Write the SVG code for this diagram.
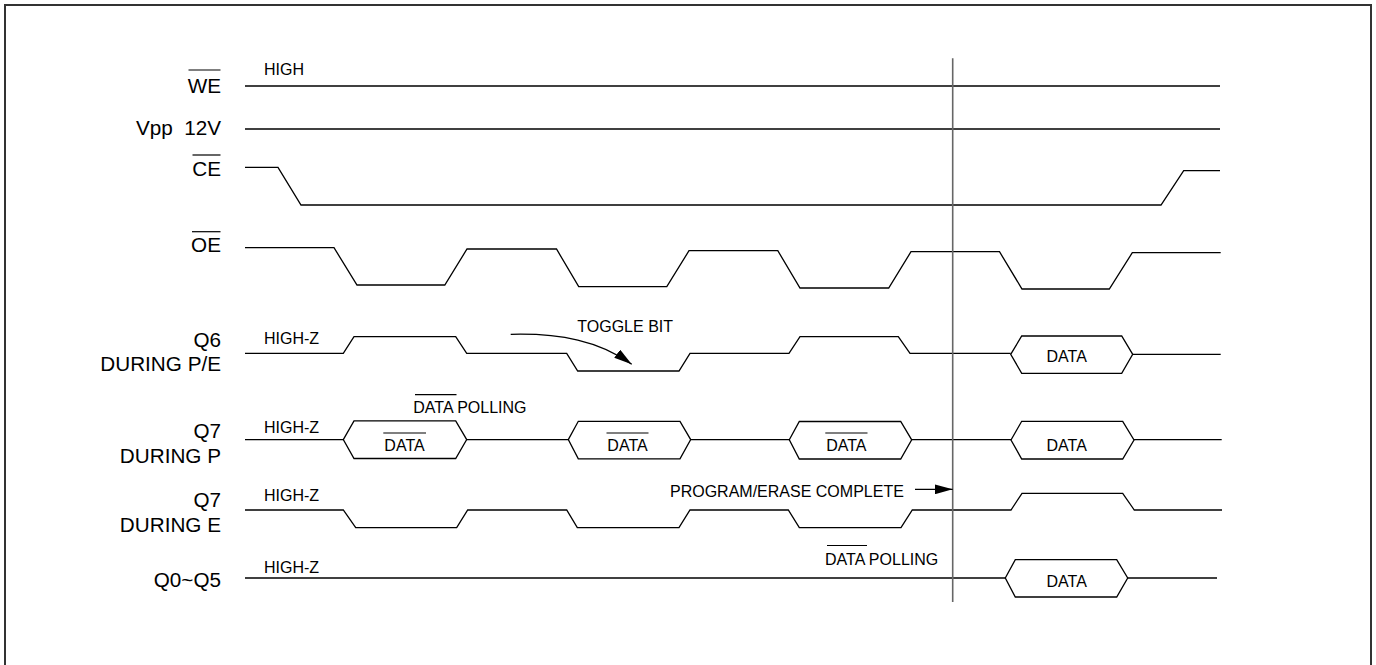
<svg xmlns="http://www.w3.org/2000/svg" width="1376" height="665" viewBox="0 0 1376 665">
<style>
.w{fill:none;stroke:#000;stroke-width:1.3;stroke-linejoin:miter}
.bx{fill:#fff;stroke:#000;stroke-width:1.3}
.ov{stroke:#000;stroke-width:1.2}
.lb{font-family:"Liberation Sans",Arial,sans-serif;font-size:20.7px;fill:#000;text-anchor:end}
.sm{font-family:"Liberation Sans",Arial,sans-serif;font-size:16px;fill:#000}
.c{text-anchor:middle}
</style>
<defs>
<marker id="ah" markerUnits="userSpaceOnUse" markerWidth="18" markerHeight="10" refX="18" refY="5" orient="auto">
<path d="M0,0 L18,5 L0,10 z" fill="#000"/>
</marker>
</defs>
<rect width="1376" height="665" fill="#fff"/>
<path d="M5,675 V5 H1371 V675" fill="none" stroke="#333" stroke-width="2"/>

<g id="WE">
<text class="lb" x="221" y="92.7">WE</text>
<line class="ov" x1="188.5" y1="70" x2="220.5" y2="70"/>
<text class="sm" x="264" y="75">HIGH</text>
<path class="w" d="M245,86 H1220"/>
</g>
<g id="Vpp">
<text class="lb" x="221" y="135.3" xml:space="preserve">Vpp  12V</text>
<path class="w" d="M245,129 H1220"/>
</g>
<g id="CE">
<text class="lb" x="221" y="175.7">CE</text>
<line class="ov" x1="192.5" y1="155" x2="220.5" y2="155"/>
<path class="w" d="M245,167.3 H278 L301,205 H1161 L1183.7,170.7 H1220"/>
</g>
<g id="OE">
<text class="lb" x="221" y="252.3">OE</text>
<line class="ov" x1="192" y1="231.7" x2="220.5" y2="231.7"/>
<path class="w" d="M245,247.7 H334 L357,285 H444.8 L467,249 H556.5 L578.7,286.7 H666.8 L689,250.7 H777.8 L800,288 H888.7 L911,251.7 H999.5 L1022,289 H1109.3 L1132.3,252.7 H1220.7"/>
</g>
<g id="Q6">
<text class="lb" x="221" y="346.7">Q6</text>
<text class="lb" x="221" y="370.7">DURING P/E</text>
<text class="sm" x="264" y="344.3">HIGH-Z</text>
<path class="w" d="M245,353.3 H343.3 L354,336.7 H455.7 L466.7,353.3 H566.7 L577.7,371 H679 L690,353.3 H789 L800,336.7 H898.3 L910,353.3 H1010.7"/>
<polygon class="bx" points="1010.7,354.3 1021.7,336 1121.7,336 1132.7,354.3 1121.7,373.3 1021.7,373.3"/>
<text class="sm c" x="1066.7" y="361.7">DATA</text>
<path class="w" d="M1132.7,354.3 H1220.7"/>
<text class="sm" x="577.3" y="332.3">TOGGLE BIT</text>
</g>
<g id="Q7P">
<text class="lb" x="221" y="438.3">Q7</text>
<text class="lb" x="221" y="462.7">DURING P</text>
<text class="sm" x="264" y="432.7">HIGH-Z</text>
<path class="w" d="M245,439.6 H1221.7"/>
<polygon class="bx" points="343.3,439.6 354,420.9 455.7,420.9 466.7,439.6 455.7,458.5 354,458.5"/>
<text class="sm c" x="404.5" y="451">DATA</text>
<line class="ov" x1="383.3" y1="433" x2="426" y2="433"/>
<polygon class="bx" points="568.3,439.6 578.3,421.3 680,421.3 690.7,439.6 680,458.8 578.3,458.8"/>
<text class="sm c" x="627.5" y="451">DATA</text>
<line class="ov" x1="606.5" y1="433" x2="648.5" y2="433"/>
<polygon class="bx" points="789.3,439.8 799.3,421.5 900.7,421.5 911.7,439.8 900.7,459 799.3,459"/>
<text class="sm c" x="846.3" y="451">DATA</text>
<line class="ov" x1="825.3" y1="433" x2="867.5" y2="433"/>
<polygon class="bx" points="1011,440 1021.7,421.3 1122.7,421.3 1134,440 1122.7,459 1021.7,459"/>
<text class="sm c" x="1066.7" y="450.7">DATA</text>
<text class="sm" x="413.3" y="412.7">DATA POLLING</text>
<line class="ov" x1="415" y1="394.7" x2="456.5" y2="394.7"/>
</g>
<g id="Q7E">
<text class="lb" x="221" y="507.3">Q7</text>
<text class="lb" x="221" y="532.3">DURING E</text>
<text class="sm" x="264" y="501">HIGH-Z</text>
<path class="w" d="M245,510 H343.3 L355.7,527.7 H456.7 L467.7,510 H566.7 L577.3,527.7 H679 L690,510 H788.3 L799.3,527.7 H901 L912.3,510 H1011 L1022,493.3 H1122.7 L1134.3,510 H1222"/>
<text class="sm" x="670" y="496.7">PROGRAM/ERASE COMPLETE</text>
</g>
<g id="Q0Q5">
<text class="lb" x="221" y="586.7">Q0~Q5</text>
<text class="sm" x="264" y="573.3">HIGH-Z</text>
<path class="w" d="M245,578 H1005.3"/>
<polygon class="bx" points="1005.3,578 1015.3,559.7 1116.7,559.7 1127.7,578 1116.7,597 1015.3,597"/>
<text class="sm c" x="1066.7" y="586.7">DATA</text>
<path class="w" d="M1127.7,578 H1217"/>
<text class="sm" x="825" y="565">DATA POLLING</text>
<line class="ov" x1="827" y1="545.5" x2="867" y2="545.5"/>
</g>
<g id="connectors">
<path d="M952.7,58.3 V602" fill="none" stroke="#666" stroke-width="1.6"/>
<path d="M915,489.3 H952.7" fill="none" stroke="#000" stroke-width="1.3" marker-end="url(#ah)"/>
<path d="M510.7,334.3 C560,333 600,341 631.7,364.3" fill="none" stroke="#000" stroke-width="1.3" marker-end="url(#ah)"/>
</g>
</svg>
